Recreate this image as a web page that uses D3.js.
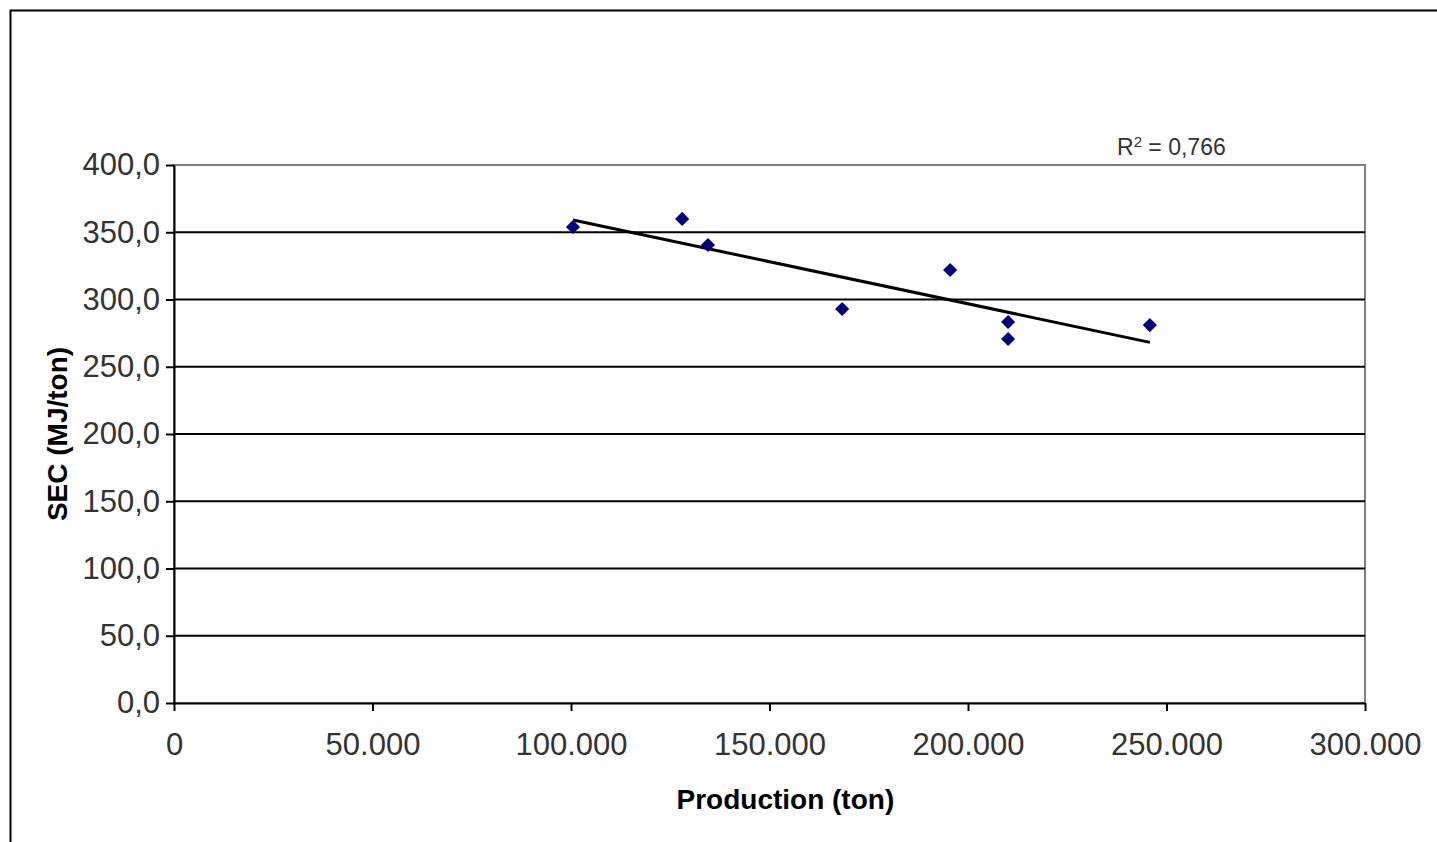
<!DOCTYPE html>
<html>
<head>
<meta charset="utf-8">
<script src="https://d3js.org/d3.v7.min.js"></script>
<style>
  body { margin: 0; background: #fff; }
  text { font-family: "Liberation Sans", Arial, sans-serif; }
</style>
</head>
<body>
<div id="chart"></div>
<script>
// data
var production = [100500, 128000, 134500, 168300, 195500, 210100, 210100, 245800];
var sec = [353.9, 359.9, 340.5, 292.9, 321.9, 283.3, 270.6, 281.0];
var xTicks = [0, 50000, 100000, 150000, 200000, 250000, 300000];
var yTicks = [0, 50, 100, 150, 200, 250, 300, 350, 400];
var r2Value = "0,766";

var W = 1437, H = 842;
var margin = {top: 165, left: 174, right: 72, bottom: 139},
    width = W - margin.left - margin.right,
    height = H - margin.top - margin.bottom;

var svg = d3.select("#chart").append("svg")
    .attr("width", W)
    .attr("height", H);

// outer frame (only top and left visible)
svg.append("rect")
    .attr("x", 10.5).attr("y", 10.5)
    .attr("width", W + 20).attr("height", H + 20)
    .attr("fill", "none")
    .attr("stroke", "#000")
    .attr("stroke-width", 2);

var g = svg.append("g")
    .attr("transform", "translate(" + margin.left + "," + margin.top + ")");

var x = d3.scaleLinear().domain([0, 300000]).range([0, width]);
var y = d3.scaleLinear().domain([0, 400]).range([height, 0]);

// comma decimals, dot thousands
var loc = d3.formatLocale({decimal: ",", thousands: ".", grouping: [3], currency: ["", ""]});
var fx = loc.format(",.0f"), fy = loc.format(".1f");

// plot area border (gray top / right)
g.append("rect")
    .attr("width", width).attr("height", height)
    .attr("fill", "none")
    .attr("stroke", "#808080")
    .attr("stroke-width", 2);

// gridlines
g.append("g").selectAll("line")
    .data(yTicks.filter(function(d) { return d > 0 && d < 400; }))
    .enter().append("line")
    .attr("x1", 0).attr("x2", width)
    .attr("y1", function(d) { return y(d); })
    .attr("y2", function(d) { return y(d); })
    .attr("stroke", "#000")
    .attr("stroke-width", 1.8);

// Y axis
var yAxis = g.append("g")
    .call(d3.axisLeft(y).tickValues(yTicks).tickSize(8).tickSizeOuter(0).tickFormat(fy).tickPadding(6));
yAxis.select(".domain").attr("stroke-width", 2);
yAxis.selectAll(".tick line").attr("stroke-width", 2);
yAxis.selectAll("text")
    .attr("font-size", 31)
    .attr("fill", "#333")
    .attr("font-family", "Liberation Sans, Arial, sans-serif");

// X axis
var xAxis = g.append("g")
    .attr("transform", "translate(0," + height + ")")
    .call(d3.axisBottom(x).tickValues(xTicks).tickSize(8).tickSizeOuter(0).tickFormat(fx).tickPadding(22));
xAxis.select(".domain").attr("stroke-width", 2);
xAxis.selectAll(".tick line").attr("stroke-width", 2);
xAxis.selectAll("text")
    .attr("font-size", 31)
    .attr("fill", "#333")
    .attr("font-family", "Liberation Sans, Arial, sans-serif");

// linear trendline (least squares on the points)
var mx = d3.mean(production), my = d3.mean(sec);
var sxy = d3.sum(production, function(d, i) { return (d - mx) * (sec[i] - my); });
var sxx = d3.sum(production, function(d) { return (d - mx) * (d - mx); });
var slope = sxy / sxx, icpt = my - slope * mx;
var ext = d3.extent(production);
var trend = ext.map(function(v) { return [v, icpt + slope * v]; });

g.append("path")
    .datum(trend)
    .attr("fill", "none")
    .attr("stroke", "#000")
    .attr("stroke-width", 3)
    .attr("d", d3.line()
        .x(function(d) { return x(d[0]); })
        .y(function(d) { return y(d[1]); }));

// points
g.append("g").selectAll("path")
    .data(production)
    .enter().append("path")
    .attr("d", d3.symbol().type(d3.symbolSquare).size(100))
    .attr("transform", function(d, i) {
        return "translate(" + x(d) + "," + y(sec[i]) + ") rotate(45)";
    })
    .attr("fill", "#000080");

// R² label
var r2 = svg.append("text")
    .attr("x", 1117).attr("y", 155)
    .attr("font-size", 23)
    .attr("fill", "#333");
r2.append("tspan").text("R");
r2.append("tspan").attr("dy", -8).attr("font-size", 15).text("2");
r2.append("tspan").attr("dy", 8).text(" = " + r2Value);

// axis titles
svg.append("text")
    .attr("x", margin.left + x(154000)).attr("y", 809)
    .attr("text-anchor", "middle")
    .attr("font-size", 28)
    .attr("font-weight", "bold")
    .text("Production (ton)");

svg.append("text")
    .attr("transform", "translate(67," + (margin.top + height / 2) + ") rotate(-90)")
    .attr("text-anchor", "middle")
    .attr("font-size", 28)
    .attr("font-weight", "bold")
    .text("SEC (MJ/ton)");
</script>
</body>
</html>
